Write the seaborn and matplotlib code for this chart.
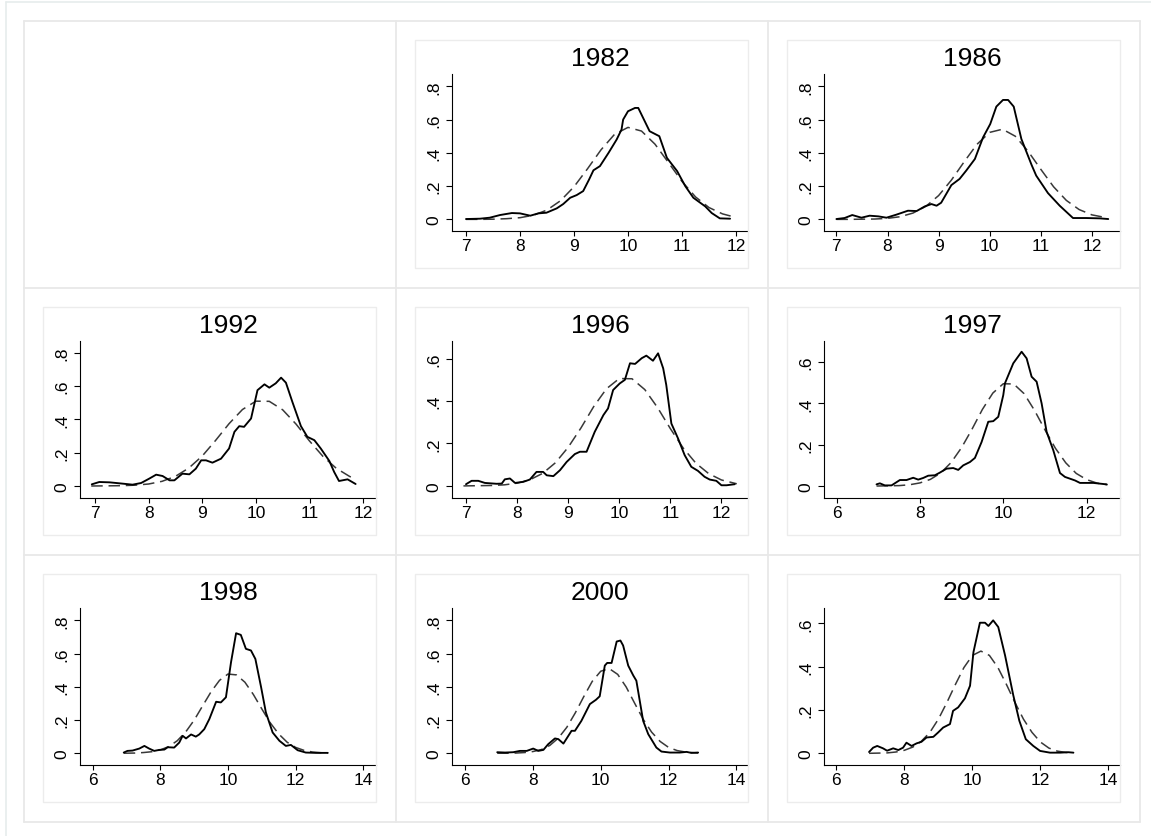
import matplotlib
matplotlib.use("Agg")
import matplotlib.pyplot as plt
from matplotlib.lines import Line2D
from matplotlib.patches import Rectangle
import seaborn as sns
import pandas as pd

# ---------------- data ----------------
years = ["1982", "1986", "1992", "1996", "1997", "1998", "2000", "2001"]

x_1982 = [7.0, 7.26, 7.44, 7.63, 7.85, 8.0, 8.19, 8.34, 8.49, 8.68, 8.8, 8.93, 9.05, 9.17, 9.28, 9.36, 9.48, 9.64, 9.79, 9.88, 9.91, 10.0, 10.13, 10.19, 10.28, 10.4, 10.58, 10.72, 10.91, 11.06, 11.21, 11.43, 11.55, 11.7, 11.89]
y_1982 = [0.002, 0.004, 0.01, 0.026, 0.038, 0.036, 0.022, 0.036, 0.04, 0.066, 0.092, 0.13, 0.146, 0.17, 0.24, 0.295, 0.32, 0.40, 0.48, 0.54, 0.60, 0.65, 0.67, 0.67, 0.61, 0.53, 0.50, 0.37, 0.29, 0.20, 0.13, 0.078, 0.038, 0.006, 0.004]
nx_1982 = [7.0, 7.25, 7.5, 7.75, 8.0, 8.25, 8.5, 8.75, 9.0, 9.25, 9.5, 9.75, 10.0, 10.25, 10.5, 10.75, 11.0, 11.25, 11.5, 11.75, 11.9]
ny_1982 = [0.0, 0.0, 0.001, 0.004, 0.010, 0.025, 0.056, 0.112, 0.196, 0.304, 0.418, 0.511, 0.553, 0.531, 0.452, 0.341, 0.228, 0.135, 0.071, 0.033, 0.020]

x_1986 = [7.0, 7.16, 7.31, 7.49, 7.65, 7.82, 7.98, 8.17, 8.4, 8.57, 8.73, 8.86, 8.96, 9.05, 9.25, 9.41, 9.54, 9.71, 9.87, 10.01, 10.13, 10.26, 10.36, 10.47, 10.62, 10.82, 10.91, 11.14, 11.37, 11.63, 11.89, 12.15, 12.32]
y_1986 = [0.002, 0.008, 0.026, 0.01, 0.022, 0.018, 0.01, 0.028, 0.052, 0.05, 0.078, 0.092, 0.082, 0.10, 0.206, 0.243, 0.293, 0.363, 0.493, 0.573, 0.678, 0.718, 0.718, 0.678, 0.483, 0.327, 0.263, 0.158, 0.082, 0.008, 0.008, 0.006, 0.002]
nx_1986 = [7.0, 7.25, 7.5, 7.75, 8.0, 8.25, 8.5, 8.75, 9.0, 9.25, 9.5, 9.75, 10.0, 10.25, 10.5, 10.75, 11.0, 11.25, 11.5, 11.75, 12.0, 12.3]
ny_1986 = [0.0, 0.0, 0.001, 0.002, 0.006, 0.016, 0.038, 0.078, 0.143, 0.236, 0.346, 0.451, 0.523, 0.542, 0.500, 0.410, 0.301, 0.196, 0.114, 0.059, 0.027, 0.009]

x_1992 = [6.94, 7.08, 7.27, 7.52, 7.7, 7.86, 8.01, 8.14, 8.26, 8.39, 8.48, 8.63, 8.76, 8.88, 8.98, 9.07, 9.19, 9.35, 9.5, 9.6, 9.69, 9.78, 9.91, 10.03, 10.16, 10.25, 10.37, 10.47, 10.56, 10.68, 10.84, 10.96, 11.09, 11.21, 11.37, 11.46, 11.55, 11.71, 11.86]
y_1992 = [0.01, 0.024, 0.022, 0.014, 0.008, 0.018, 0.044, 0.068, 0.06, 0.034, 0.034, 0.074, 0.07, 0.104, 0.154, 0.154, 0.14, 0.164, 0.225, 0.325, 0.359, 0.355, 0.405, 0.575, 0.61, 0.59, 0.616, 0.65, 0.62, 0.505, 0.359, 0.295, 0.275, 0.225, 0.15, 0.084, 0.03, 0.04, 0.012]
nx_1992 = [6.93, 7.25, 7.5, 7.75, 8.0, 8.25, 8.5, 8.75, 9.0, 9.25, 9.5, 9.75, 10.0, 10.25, 10.5, 10.75, 11.0, 11.25, 11.5, 11.75, 11.85]
ny_1992 = [0.0, 0.001, 0.002, 0.005, 0.012, 0.028, 0.058, 0.108, 0.180, 0.274, 0.374, 0.459, 0.509, 0.508, 0.457, 0.371, 0.270, 0.178, 0.106, 0.057, 0.043]

x_1996 = [7.0, 7.11, 7.24, 7.37, 7.6, 7.7, 7.76, 7.86, 7.96, 8.12, 8.25, 8.38, 8.51, 8.58, 8.71, 8.84, 8.97, 9.13, 9.23, 9.36, 9.52, 9.69, 9.78, 9.88, 10.01, 10.11, 10.21, 10.31, 10.44, 10.53, 10.66, 10.76, 10.86, 10.92, 11.02, 11.15, 11.28, 11.41, 11.54, 11.67, 11.77, 11.9, 12.0, 12.1, 12.26]
y_1996 = [0.008, 0.024, 0.024, 0.014, 0.01, 0.011, 0.031, 0.035, 0.014, 0.019, 0.03, 0.066, 0.066, 0.05, 0.046, 0.074, 0.113, 0.15, 0.161, 0.161, 0.255, 0.334, 0.365, 0.452, 0.483, 0.5, 0.578, 0.575, 0.602, 0.614, 0.59, 0.625, 0.554, 0.476, 0.294, 0.224, 0.145, 0.09, 0.071, 0.043, 0.03, 0.024, 0.003, 0.003, 0.008]
nx_1996 = [6.95, 7.25, 7.5, 7.75, 8.0, 8.25, 8.5, 8.75, 9.0, 9.25, 9.5, 9.75, 10.0, 10.25, 10.5, 10.75, 11.0, 11.25, 11.5, 11.75, 12.0, 12.3]
ny_1996 = [0.0, 0.001, 0.002, 0.005, 0.013, 0.029, 0.059, 0.109, 0.182, 0.273, 0.374, 0.458, 0.506, 0.505, 0.454, 0.369, 0.270, 0.179, 0.107, 0.058, 0.028, 0.010]

x_1997 = [6.96, 7.04, 7.16, 7.32, 7.52, 7.68, 7.84, 7.96, 8.08, 8.2, 8.36, 8.48, 8.64, 8.8, 8.92, 9.04, 9.2, 9.32, 9.48, 9.64, 9.76, 9.88, 10.0, 10.04, 10.24, 10.44, 10.56, 10.68, 10.8, 10.92, 11.04, 11.2, 11.36, 11.48, 11.72, 11.84, 12.16, 12.48]
y_1997 = [0.008, 0.013, 0.003, 0.003, 0.029, 0.029, 0.04, 0.031, 0.039, 0.05, 0.052, 0.065, 0.084, 0.087, 0.078, 0.1, 0.116, 0.136, 0.213, 0.311, 0.314, 0.335, 0.44, 0.497, 0.594, 0.65, 0.618, 0.529, 0.505, 0.4, 0.262, 0.173, 0.063, 0.044, 0.027, 0.015, 0.015, 0.008]
nx_1997 = [6.96, 7.25, 7.5, 7.75, 8.0, 8.25, 8.5, 8.75, 9.0, 9.25, 9.5, 9.75, 10.0, 10.25, 10.5, 10.75, 11.0, 11.25, 11.5, 11.75, 12.0, 12.25, 12.5]
ny_1997 = [0.0, 0.001, 0.002, 0.006, 0.015, 0.032, 0.063, 0.114, 0.186, 0.275, 0.371, 0.450, 0.495, 0.494, 0.447, 0.366, 0.272, 0.183, 0.112, 0.061, 0.031, 0.014, 0.006]

x_1998 = [6.92, 7.03, 7.18, 7.38, 7.53, 7.67, 7.82, 7.97, 8.12, 8.22, 8.41, 8.56, 8.66, 8.76, 8.91, 9.05, 9.15, 9.3, 9.45, 9.65, 9.79, 9.94, 10.09, 10.24, 10.38, 10.53, 10.68, 10.81, 10.98, 11.12, 11.32, 11.52, 11.71, 11.86, 12.06, 12.3, 12.6, 12.95]
y_1998 = [0.004, 0.014, 0.016, 0.028, 0.044, 0.028, 0.014, 0.02, 0.022, 0.036, 0.034, 0.064, 0.105, 0.089, 0.113, 0.1, 0.113, 0.145, 0.206, 0.31, 0.306, 0.337, 0.548, 0.723, 0.713, 0.629, 0.619, 0.568, 0.397, 0.246, 0.125, 0.075, 0.044, 0.05, 0.018, 0.004, 0.002, 0.002]
nx_1998 = [6.92, 7.25, 7.5, 7.75, 8.0, 8.25, 8.5, 8.75, 9.0, 9.25, 9.5, 9.75, 10.0, 10.25, 10.5, 10.75, 11.0, 11.25, 11.5, 11.75, 12.0, 12.25, 12.5, 12.75, 12.95]
ny_1998 = [0.0, 0.001, 0.004, 0.009, 0.020, 0.040, 0.075, 0.128, 0.199, 0.285, 0.370, 0.439, 0.477, 0.472, 0.428, 0.354, 0.267, 0.183, 0.116, 0.066, 0.035, 0.017, 0.007, 0.003, 0.001]

x_2000 = [6.95, 7.18, 7.42, 7.62, 7.82, 8.01, 8.16, 8.31, 8.45, 8.65, 8.75, 8.9, 9.14, 9.24, 9.43, 9.68, 9.86, 9.97, 10.12, 10.19, 10.32, 10.47, 10.58, 10.66, 10.81, 10.96, 11.05, 11.25, 11.4, 11.64, 11.79, 12.04, 12.33, 12.53, 12.67, 12.87]
y_2000 = [0.006, 0.004, 0.006, 0.014, 0.014, 0.028, 0.014, 0.02, 0.054, 0.089, 0.085, 0.058, 0.135, 0.135, 0.195, 0.296, 0.322, 0.343, 0.528, 0.544, 0.544, 0.673, 0.679, 0.649, 0.528, 0.468, 0.437, 0.195, 0.115, 0.034, 0.01, 0.004, 0.004, 0.008, 0.002, 0.004]
nx_2000 = [6.95, 7.25, 7.5, 7.75, 8.0, 8.25, 8.5, 8.75, 9.0, 9.25, 9.5, 9.75, 10.0, 10.25, 10.5, 10.75, 11.0, 11.25, 11.5, 11.75, 12.0, 12.25, 12.5, 12.87]
ny_2000 = [0.0, 0.0, 0.001, 0.004, 0.010, 0.022, 0.047, 0.091, 0.156, 0.243, 0.341, 0.433, 0.494, 0.510, 0.475, 0.399, 0.301, 0.205, 0.127, 0.071, 0.035, 0.016, 0.007, 0.001]

x_2001 = [6.96, 7.08, 7.2, 7.37, 7.49, 7.67, 7.82, 7.96, 8.06, 8.21, 8.36, 8.5, 8.65, 8.85, 8.99, 9.14, 9.34, 9.43, 9.58, 9.78, 9.93, 10.03, 10.22, 10.37, 10.47, 10.61, 10.76, 10.96, 11.2, 11.38, 11.57, 11.79, 11.99, 12.28, 12.58, 12.82, 12.97]
y_2001 = [0.006, 0.026, 0.034, 0.023, 0.012, 0.023, 0.015, 0.026, 0.049, 0.034, 0.046, 0.053, 0.073, 0.076, 0.096, 0.119, 0.135, 0.196, 0.212, 0.254, 0.312, 0.467, 0.603, 0.603, 0.588, 0.614, 0.583, 0.452, 0.269, 0.15, 0.065, 0.034, 0.011, 0.003, 0.003, 0.005, 0.003]
nx_2001 = [6.96, 7.25, 7.5, 7.75, 8.0, 8.25, 8.5, 8.75, 9.0, 9.25, 9.5, 9.75, 10.0, 10.25, 10.5, 10.75, 11.0, 11.25, 11.5, 11.75, 12.0, 12.25, 12.5, 12.75, 12.97]
ny_2001 = [0.0, 0.001, 0.002, 0.006, 0.014, 0.029, 0.056, 0.097, 0.158, 0.235, 0.318, 0.396, 0.452, 0.472, 0.452, 0.396, 0.318, 0.235, 0.158, 0.097, 0.052, 0.024, 0.010, 0.004, 0.002]

# axis ticks / labels
xticks_a = [7, 8, 9, 10, 11, 12]
xticks_b = [6, 8, 10, 12]
xticks_c = [6, 8, 10, 12, 14]
yticks_8 = [0, 0.2, 0.4, 0.6, 0.8]
ylabels_8 = ["0", ".2", ".4", ".6", ".8"]
yticks_6 = [0, 0.2, 0.4, 0.6]
ylabels_6 = ["0", ".2", ".4", ".6"]

series = {
    "1982": (x_1982, y_1982, nx_1982, ny_1982),
    "1986": (x_1986, y_1986, nx_1986, ny_1986),
    "1992": (x_1992, y_1992, nx_1992, ny_1992),
    "1996": (x_1996, y_1996, nx_1996, ny_1996),
    "1997": (x_1997, y_1997, nx_1997, ny_1997),
    "1998": (x_1998, y_1998, nx_1998, ny_1998),
    "2000": (x_2000, y_2000, nx_2000, ny_2000),
    "2001": (x_2001, y_2001, nx_2001, ny_2001),
}

# ---------------- layout / style ----------------
sns.set_style("white")
plt.rcParams["font.family"] = ["Liberation Sans", "DejaVu Sans"]

W, H = 1151, 837
fig = plt.figure(figsize=(W / 100, H / 100), dpi=100)
fig.patch.set_facecolor("white")

def fx(px):
    return px / W

def fy(py):
    return 1 - py / H

grid_col = "#e8e8e8"
frame_col = "#e6ecec"
box_col = "#ececec"

# outer frame
fig.add_artist(Line2D([fx(6), fx(6)], [fy(3), fy(H + 5)], color=frame_col, lw=1.2))
fig.add_artist(Line2D([fx(6), fx(W + 5)], [fy(3), fy(3)], color=frame_col, lw=1.2))

col_edges = [24, 396, 768, 1140]
row_edges = [22, 289, 556, 823]
for cx in col_edges:
    fig.add_artist(Line2D([fx(cx), fx(cx)], [fy(row_edges[0]), fy(row_edges[-1])], color=grid_col, lw=1.3))
for ry in row_edges:
    fig.add_artist(Line2D([fx(col_edges[0]), fx(col_edges[-1])], [fy(ry), fy(ry)], color=grid_col, lw=1.3))

positions = {
    "1982": (0, 1), "1986": (0, 2),
    "1992": (1, 0), "1996": (1, 1), "1997": (1, 2),
    "1998": (2, 0), "2000": (2, 1), "2001": (2, 2),
}
xlims = {
    "1982": (6.741, 12.222), "1986": (6.757, 12.55), "1992": (6.72, 12.24),
    "1996": (6.726, 12.52), "1997": (5.70, 12.8), "1998": (5.627, 14.375),
    "2000": (5.617, 14.34), "2001": (5.635, 14.34),
}
ylims = {
    "1982": (-0.070, 0.874), "1986": (-0.070, 0.874), "1992": (-0.072, 0.870),
    "1996": (-0.057, 0.683), "1997": (-0.058, 0.702), "1998": (-0.071, 0.875),
    "2000": (-0.071, 0.875), "2001": (-0.054, 0.671),
}
xt = {"1982": xticks_a, "1986": xticks_a, "1992": xticks_a, "1996": xticks_a,
      "1997": xticks_b, "1998": xticks_c, "2000": xticks_c, "2001": xticks_c}
yt = {"1982": (yticks_8, ylabels_8), "1986": (yticks_8, ylabels_8),
      "1992": (yticks_8, ylabels_8), "1996": (yticks_6, ylabels_6),
      "1997": (yticks_6, ylabels_6), "1998": (yticks_8, ylabels_8),
      "2000": (yticks_8, ylabels_8), "2001": (yticks_6, ylabels_6)}

for yr in years:
    r, c = positions[yr]
    cl = col_edges[c]
    ct = row_edges[r]
    # light plot-region box
    fig.add_artist(Rectangle((fx(cl + 19), fy(ct + 247)), (333) / W, (228) / H,
                             transform=fig.transFigure, fill=False,
                             edgecolor=box_col, lw=1.0))
    left, right = cl + 56, cl + 352
    top, bottom = ct + 53, ct + 210
    ax = fig.add_axes([fx(left), fy(bottom), (right - left) / W, (bottom - top) / H])
    ax.set_facecolor("none")
    xs, ys, nxs, nys = series[yr]
    sol = pd.DataFrame({"x": xs, "density": ys})
    nrm = pd.DataFrame({"x": nxs, "density": nys})
    sns.lineplot(data=nrm, x="x", y="density", ax=ax, color="#383838", lw=1.1,
                 linestyle=(0, (7.5, 3.8)), estimator=None, sort=False)
    sns.lineplot(data=sol, x="x", y="density", ax=ax, color="black", lw=1.35,
                 estimator=None, sort=False)
    ax.set_xlim(*xlims[yr])
    ax.set_ylim(*ylims[yr])
    ax.set_xticks(xt[yr])
    ax.set_xticklabels([str(v) for v in xt[yr]])
    ticks, labels = yt[yr]
    ax.set_yticks(ticks)
    ax.set_yticklabels(labels, rotation=90, va="center")
    ax.set_xlabel("")
    ax.set_ylabel("")
    for s in ["top", "right"]:
        ax.spines[s].set_visible(False)
    for s in ["left", "bottom"]:
        ax.spines[s].set_color("black")
        ax.spines[s].set_linewidth(0.8)
    ax.tick_params(axis="x", length=3.8, width=0.8, color="black", labelsize=12.5, pad=1.2,
                   labelcolor="black", bottom=True)
    ax.tick_params(axis="y", length=4.3, width=0.8, color="black", labelsize=12.5, pad=3.5,
                   labelcolor="black", left=True)
    ax.set_title(yr, fontsize=19, pad=6.5, color="black")

fig.savefig("out.png", dpi=100, facecolor="white")
